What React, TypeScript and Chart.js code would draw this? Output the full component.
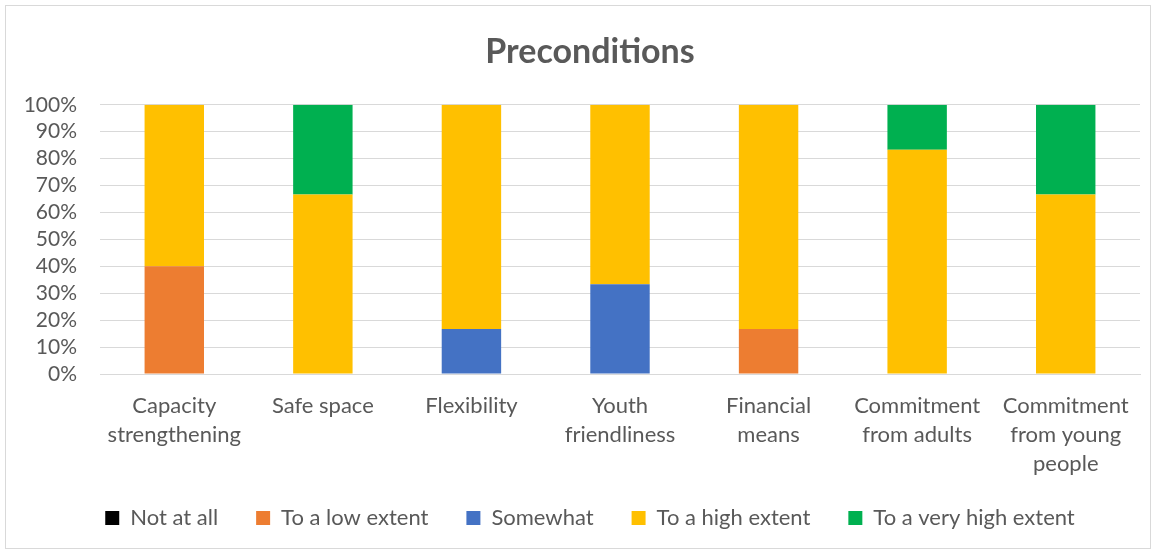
import React, { useEffect, useRef } from "react";
import { Chart, registerables } from "chart.js";

Chart.register(...registerables);

const categories: string[][] = [
  ["Capacity", "strengthening"],
  ["Safe space"],
  ["Flexibility"],
  ["Youth", "friendliness"],
  ["Financial", "means"],
  ["Commitment", "from adults"],
  ["Commitment", "from young", "people"],
];

const notAtAll = [0, 0, 0, 0, 0, 0, 0];
const lowExtent = [40, 0, 0, 0, 16.7, 0, 0];
const somewhat = [0, 0, 16.7, 33.3, 0, 0, 0];
const highExtent = [60, 66.7, 83.3, 66.7, 83.3, 83.3, 66.7];
const veryHighExtent = [0, 33.3, 0, 0, 0, 16.7, 33.3];

const seriesNames = ["Not at all", "To a low extent", "Somewhat", "To a high extent", "To a very high extent"];
const seriesColors = ["#000000", "#ED7D31", "#4472C4", "#FFC000", "#00B050"];
const seriesValues = [notAtAll, lowExtent, somewhat, highExtent, veryHighExtent];

const FONT = "Lato, Calibri, Carlito, sans-serif";
const TEXT = "#595959";

const noLabelClip = {
  id: "noLabelClip",
  beforeDraw(chart: any) {
    const sx = chart.scales && chart.scales.x;
    const sy = chart.scales && chart.scales.y;
    if (sx) sx._computeLabelArea = () => undefined;
    if (sy) sy._computeLabelArea = () => undefined;
  },
};

export default function App() {
  const ref = useRef<HTMLCanvasElement | null>(null);
  useEffect(() => {
    if (!ref.current) return;
    const chart = new Chart(ref.current, {
      type: "bar",
      data: {
        labels: categories,
        datasets: seriesNames.map((name, i) => ({
          label: name,
          data: seriesValues[i],
          backgroundColor: seriesColors[i],
          borderWidth: 0,
          categoryPercentage: 1,
          barPercentage: 0.4,
        })),
      },
      plugins: [noLabelClip],
      options: {
        animation: false,
        responsive: false,
        maintainAspectRatio: false,
        layout: { padding: { left: 34, right: 10, top: 0, bottom: 9 } },
        plugins: {
          title: {
            display: true,
            text: "Preconditions",
            color: TEXT,
            font: { family: FONT, size: 34, weight: "bold", lineHeight: 1.2 },
            padding: { top: 26, bottom: 32 },
          },
          legend: {
            position: "bottom",
            labels: {
              color: TEXT,
              font: { family: FONT, size: 22 },
              boxWidth: 14,
              boxHeight: 14,
              padding: 38,
              useBorderRadius: false,
            },
          },
          tooltip: { enabled: false },
        },
        scales: {
          x: {
            stacked: true,
            grid: { display: false, drawTicks: false },
            border: { color: "#d9d9d9", width: 1 },
            ticks: {
              color: TEXT,
              font: { family: FONT, size: 22, lineHeight: 1.32 },
              padding: 17,
              maxRotation: 0,
              autoSkip: false,
            },
            afterFit: (s: any) => {
              s.height = 95;
            },
          },
          y: {
            stacked: true,
            min: 0,
            max: 100,
            grid: { color: "#d9d9d9", lineWidth: 1, drawTicks: false },
            border: { display: false },
            ticks: {
              stepSize: 10,
              autoSkip: false,
              color: TEXT,
              font: { family: FONT, size: 21 },
              padding: 23,
              callback: (v: any) => v + "%",
            },
            afterFit: (s: any) => {
              s.width = 60;
            },
          },
        },
      },
    });
    chart.draw();
    return () => chart.destroy();
  }, []);
  return (
    <div
      style={{
        position: "fixed",
        left: 5,
        top: 5,
        width: 1144,
        height: 542,
        border: "1px solid #d9d9d9",
        background: "#fff",
      }}
    >
      <canvas ref={ref} width={1144} height={542} style={{ display: "block" }} />
    </div>
  );
}
